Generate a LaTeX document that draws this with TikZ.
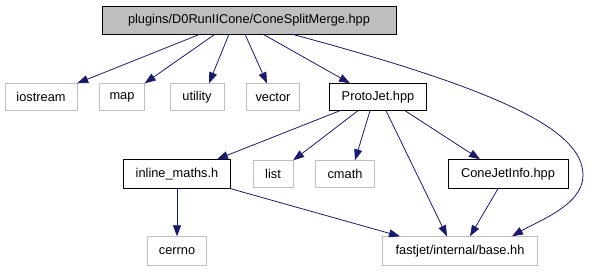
\documentclass[tikz,border=0pt]{standalone}
\usepackage{fontspec}
\setmainfont{Liberation Sans}
\usepackage{tikz}
\usetikzlibrary{arrows.meta}
\definecolor{edgeblue}{HTML}{191970}
\definecolor{boxgray}{HTML}{BFBFBF}
\newcommand\graphfont{\fontsize{12.8}{15}\selectfont}
\tikzset{
  rootbox/.style={draw=black,fill=boxgray,minimum height=28pt,inner sep=0pt,font=\graphfont},
  filebox/.style={draw=black,fill=white,minimum height=27pt,inner sep=0pt,font=\graphfont},
  sysbox/.style={draw=boxgray,fill=white,minimum height=27pt,inner sep=0pt,font=\graphfont},
  inclarrow/.style={-{Triangle[length=11pt,width=8pt]},draw=edgeblue,line width=0.8pt}
}
\begin{document}
\begin{tikzpicture}[x=1pt,y=-1pt]
  \useasboundingbox (0,0) rectangle (589,272);
  % header and its includes
  \node[rootbox,minimum width=294pt] (main) at (249,20) {plugins/D0RunIICone/ConeSplitMerge.hpp};
  \node[sysbox,minimum width=72pt] (iostream) at (41,97) {iostream};
  \node[sysbox,minimum width=45pt] (map) at (122,97) {map};
  \node[sysbox,minimum width=54pt] (utility) at (197,97) {utility};
  \node[sysbox,minimum width=53pt] (vector) at (273,97) {vector};
  \node[filebox,minimum width=97pt] (proto) at (378,97) {ProtoJet.hpp};
  \node[filebox,minimum width=107pt,minimum height=29pt] (inline) at (177,174) {inline\_maths.h};
  \node[sysbox,minimum width=40pt] (list) at (273,174) {list};
  \node[sysbox,minimum width=59pt] (cmath) at (345,174) {cmath};
  \node[filebox,minimum width=120pt,minimum height=29pt] (conejet) at (508,174) {ConeJetInfo.hpp};
  \node[sysbox,minimum width=59pt,minimum height=29pt] (cerrno) at (177,251) {cerrno};
  \node[sysbox,minimum width=155pt,minimum height=29pt] (base) at (460,251) {fastjet/internal/base.hh};

  \draw[inclarrow] ([xshift=-49pt]main.south) -- (iostream.north east);
  \draw[inclarrow] ([xshift=-34pt]main.south) -- (map.north east);
  \draw[inclarrow] ([xshift=-20pt]main.south) -- ([xshift=12pt]utility.north);
  \draw[inclarrow] ([xshift=-4pt]main.south) -- ([xshift=-6pt]vector.north);
  \draw[inclarrow] ([xshift=14pt]main.south) -- ([xshift=-28pt]proto.north);
  \draw[inclarrow] ([xshift=43pt]main.south) .. controls (500,90) and (583,130) .. (583,175)
    .. controls (583,205) and (540,220) .. ([xshift=52pt]base.north);

  \draw[inclarrow] ([xshift=-38pt]proto.south) -- ([xshift=40pt]inline.north);
  \draw[inclarrow] ([xshift=-20pt]proto.south) -- (list.north east);
  \draw[inclarrow] ([xshift=-8pt]proto.south) -- ([xshift=10pt]cmath.north);
  \draw[inclarrow] ([xshift=8pt]proto.south) -- ([xshift=-13pt]base.north);
  \draw[inclarrow] ([xshift=27pt]proto.south) -- ([xshift=-28pt]conejet.north);

  \draw[inclarrow] (inline) -- (cerrno);
  \draw[inclarrow] (inline.south east) -- ([xshift=-60pt]base.north);
  \draw[inclarrow] ([xshift=-10pt]conejet.south) -- ([xshift=10pt]base.north);
\end{tikzpicture}
\end{document}
